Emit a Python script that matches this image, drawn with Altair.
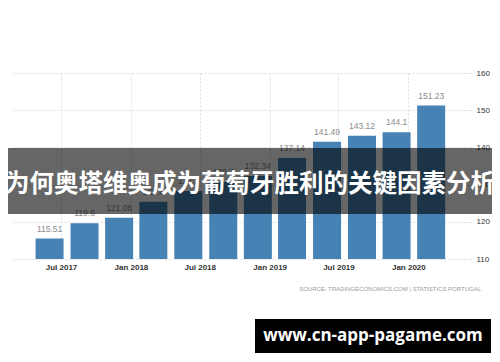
import altair as alt
import pandas as pd

# ---- data ----
dates = ["2017-06-01", "2017-09-01", "2017-12-01", "2018-03-01", "2018-06-01", "2018-09-01",
         "2018-12-01", "2019-03-01", "2019-06-01", "2019-09-01", "2019-12-01", "2020-03-01"]
values = [115.51, 119.6, 121.06, 125.4, 128.3, 130.7, 132.34, 137.14, 141.49, 143.12, 144.1, 151.23]
y_ticks = [110, 120, 130, 140, 150, 160]
x_tick_dates = [(2017, 7), (2018, 1), (2018, 7), (2019, 1), (2019, 7), (2020, 1)]
banner_text = "为何奥塔维奥成为葡萄牙胜利的关键因素分析"
site_text = "www.cn-app-pagame.com"
source_text = "SOURCE:  TRADINGECONOMICS.COM  |  STATISTICS  PORTUGAL"

df = pd.DataFrame({
    "date": [d + "T00:00:00" for d in dates],
    "value": values,
    "label": [str(v) for v in values],
})
one = pd.DataFrame({"k": [0]})

W, H = 460, 186

x_enc = alt.X(
    "date:T",
    scale=alt.Scale(domain=[alt.DateTime(year=2017, month=3, date=2),
                            alt.DateTime(year=2020, month=5, date=29)]),
    axis=alt.Axis(
        title=None, format="%b %Y",
        values=[alt.DateTime(year=y, month=m, date=1) for y, m in x_tick_dates],
        grid=True, gridDash=[2, 2], gridColor="#dcdcdc",
        domain=False, ticks=False, labelPadding=4, labelOverlap=False,
        labelFont="Liberation Sans", labelFontSize=8, labelFontWeight="bold",
        labelColor="#333333",
    ),
)
y_enc = alt.Y(
    "value:Q",
    scale=alt.Scale(domain=[110, 160], nice=False, zero=False),
    axis=alt.Axis(
        title=None, orient="right", tickCount=6,
        grid=True, gridDash=[2, 2], gridColor="#dcdcdc",
        domain=False, ticks=True, tickSize=4, tickColor="#dcdcdc", tickDash=[2, 2],
        labelPadding=2, labelOverlap=False,
        labelFont="Liberation Sans", labelFontSize=8, labelColor="#333333",
    ),
)

base = alt.Chart(df)
bars = base.mark_bar(width=28, color="#4682b4").encode(x=x_enc, y=y_enc, y2=alt.datum(110))
labels = base.mark_text(dy=-10, color="#8a8a8a", font="Liberation Sans", fontSize=8.5).encode(
    x=x_enc, y=y_enc, text="label:N")

banner = alt.Chart(one).mark_rect(color="black", opacity=0.6).encode(
    x=alt.value(-2), x2=alt.value(482), y=alt.value(75), y2=alt.value(141))
banner_t = alt.Chart(one).mark_text(
    text=banner_text, color="white", font="Noto Sans CJK SC", fontSize=24.5,
    fontWeight="bold", align="center", baseline="middle").encode(
    x=alt.value(240), y=alt.value(112))

box = alt.Chart(one).mark_rect(color="black").encode(
    x=alt.value(245), x2=alt.value(481), y=alt.value(246), y2=alt.value(280))
box_t = alt.Chart(one).mark_text(
    text=site_text, color="white", font="Open Sans", fontSize=17,
    fontWeight="bold", align="center", baseline="middle").encode(
    x=alt.value(363), y=alt.value(263))

src = alt.Chart(one).mark_text(
    text=source_text, color="#9a9a9a", font="Liberation Sans", fontSize=6,
    align="right", baseline="middle").encode(
    x=alt.value(471), y=alt.value(216))

chart = alt.layer(bars, labels, src, banner, banner_t, box, box_t).properties(
    width=W, height=H,
    autosize=alt.AutoSizeParams(type="none"),
    padding={"left": 2, "top": 65, "right": 22, "bottom": 95},
).configure_view(strokeWidth=0)

chart.save("out.html", embed_options={"renderer": "svg", "actions": False})
